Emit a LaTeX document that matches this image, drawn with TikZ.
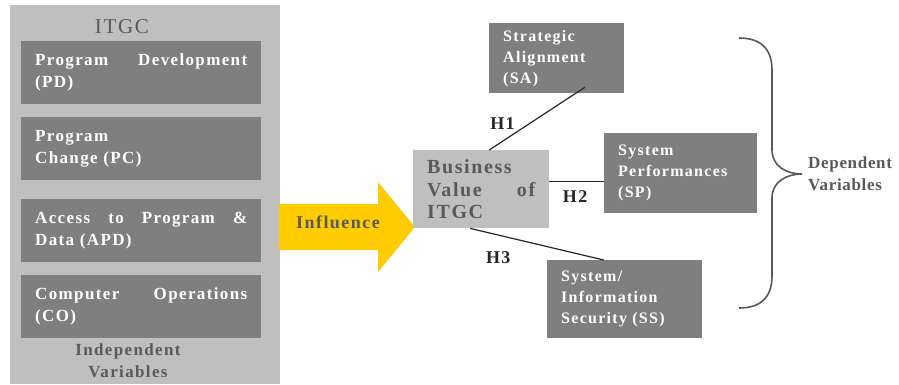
\documentclass[tikz,border=0pt]{standalone}
\usepackage{fontspec}
\setmainfont{Liberation Serif}
\newfontfamily\spacedfont{Liberation Serif}[LetterSpace=8]
\newfontfamily\tightfont{Liberation Serif}[LetterSpace=4]
\usetikzlibrary{positioning}
\definecolor{panelgray}{RGB}{191,191,191}
\definecolor{boxgray}{RGB}{127,127,127}
\definecolor{textgray}{RGB}{89,89,89}
\definecolor{linegray}{RGB}{38,38,38}
\definecolor{influyellow}{RGB}{255,204,0}

\begin{document}
\begin{tikzpicture} [x=1pt, y=-1pt,
  panel/.style={fill=panelgray, anchor=north west, inner sep=0pt},
  ctrlbox/.style={fill=boxgray, text=white, anchor=north west, inner xsep=14pt,
    text width=212pt, minimum height=63pt, align=left,
    font=\fontsize{17}{22}\selectfont\spacedfont\bfseries},
  depbox/.style={fill=boxgray, text=white, anchor=north west, inner xsep=14pt,
    align=left, font=\fontsize{16}{21}\selectfont\spacedfont\bfseries},
  bvbox/.style={fill=panelgray, text=textgray, anchor=north west, inner xsep=14pt,
    text width=108pt, minimum height=78pt, align=left,
    font=\fontsize{20}{22.5}\selectfont\spacedfont\bfseries},
  note/.style={text=textgray, align=left, inner sep=0pt,
    font=\fontsize{17}{22}\selectfont\spacedfont\bfseries},
  hyp/.style={text=linegray, inner sep=0pt, font=\fontsize{18}{20}\selectfont\spacedfont\bfseries},
  link/.style={draw=linegray, line width=1.2pt}]
\useasboundingbox (0,0) rectangle (899,384);

% independent side
\path (10,5) node[panel, minimum width=270pt, minimum height=379pt] (itgc) {}
      (122,27) node[text=textgray, font=\fontsize{21}{24}\selectfont\spacedfont] (itgct) {ITGC};

\path (21,41) node[ctrlbox] (pd) {Program\hfill Development\\(PD)}
      (21,117) node[ctrlbox] (pc) {Program\\Change (PC)}
      (21,199) node[ctrlbox] (apd) {Access\hfill to\hfill Program\hfill \&\\Data (APD)}
      (21,275) node[ctrlbox] (co) {Computer\hfill Operations\\(CO)}
      (128,361) node[note, align=center] (iv) {Independent\\Variables};

% influence arrow
\fill[influyellow] (279,204) -- (378,204) -- (378,182) -- (415,227) -- (378,272) -- (378,250) -- (279,250) -- cycle;
\path (338,222) node[note, font=\fontsize{18}{22}\selectfont\spacedfont\bfseries] (infl) {Influence};

% dependent side
\path (413,150) node[bvbox] (bv) {Business\\Value\hfill of\\ITGC}
      (489,23) node[depbox, text width=107pt, minimum height=70pt] (sa) {Strategic\\Alignment\\(SA)}
      (604,133) node[depbox, text width=125pt, minimum height=80pt] (sp) {System\\Performances\\(SP)}
      (547,260) node[depbox, text width=127pt, minimum height=78pt] (ss) {System/\\Information\\Security (SS)};

\draw[link] ([xshift=8pt]bv.north) to node [pos=0.42, hyp, left=14pt] {H1} ([xshift=28pt, yshift=6pt]sa.south);
\draw[link] ([yshift=8pt]bv.east) to node [pos=0.47, hyp, below=9pt] {H2} ([yshift=-8pt]sp.west);
\draw[link] ([xshift=-11pt]bv.south) to node [pos=0.21, hyp, below=16pt] {H3} ([xshift=-21pt]ss.north);

% brace
\coordinate (tip) at (802,174);
\draw[textgray, line width=1.6pt] (739,38) .. controls (760,38) and (772,48) .. (772,70) -- (772,150)
  .. controls (772,166) and (786,174) .. (tip) .. controls (786,174) and (772,182) .. (772,198)
  -- (772,276) .. controls (772,298) and (760,308) .. (739,308);
\node[note, right=6pt of tip, font=\fontsize{17}{22}\selectfont\tightfont\bfseries] (dv) {Dependent\\Variables};
\end{tikzpicture}
\end{document}
